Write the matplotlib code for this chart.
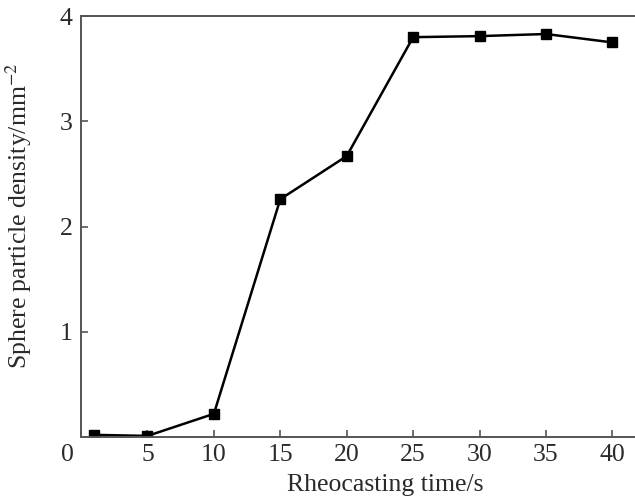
import matplotlib.pyplot as plt
from matplotlib.transforms import ScaledTranslation

# data
time_s = [1, 5, 10, 15, 20, 25, 30, 35, 40]
density = [0.02, 0.01, 0.22, 2.26, 2.67, 3.80, 3.81, 3.83, 3.75]

x_ticks = [0, 5, 10, 15, 20, 25, 30, 35, 40]
y_ticks = [1, 2, 3, 4]

plt.rcParams['font.family'] = ['Liberation Serif', 'DejaVu Serif']
plt.rcParams['mathtext.fontset'] = 'stix'

fig = plt.figure(figsize=(6.35, 5.04), dpi=100)
ax = fig.add_axes([0.1276, 0.133, 0.8724, 0.835])

ax.plot(time_s, density, color='black', lw=1.8, marker='s', markersize=6.5,
        markerfacecolor='black', markeredgecolor='black')

ax.set_xlim(0, 41.7)
ax.set_ylim(0, 4)
ax.set_xticks(x_ticks)
ax.set_yticks(y_ticks)

for side in ['left', 'bottom', 'top']:
    ax.spines[side].set_color('#555555')
    ax.spines[side].set_linewidth(1.4)
ax.spines['right'].set_visible(False)

ax.tick_params(direction='in', length=5, width=1.2, color='#555555',
               labelsize=18.5, labelcolor='#2a2a2a')
ax.tick_params(axis='x', pad=5)
ax.tick_params(axis='y', pad=6)

# the origin label sits a bit left of the axis corner
lbl0 = ax.get_xticklabels()[0]
lbl0.set_transform(lbl0.get_transform() + ScaledTranslation(-0.14, 0, fig.dpi_scale_trans))

ax.set_xlabel('Rheocasting time/s', fontsize=18.5, color='#2a2a2a')
ax.set_ylabel('Sphere particle density/mm$^{-2}$', fontsize=18.5, color='#2a2a2a')
ax.xaxis.set_label_coords(0.549, -0.088)
ax.yaxis.set_label_coords(-0.085, 0.525)

fig.savefig('out.png', dpi=100)
